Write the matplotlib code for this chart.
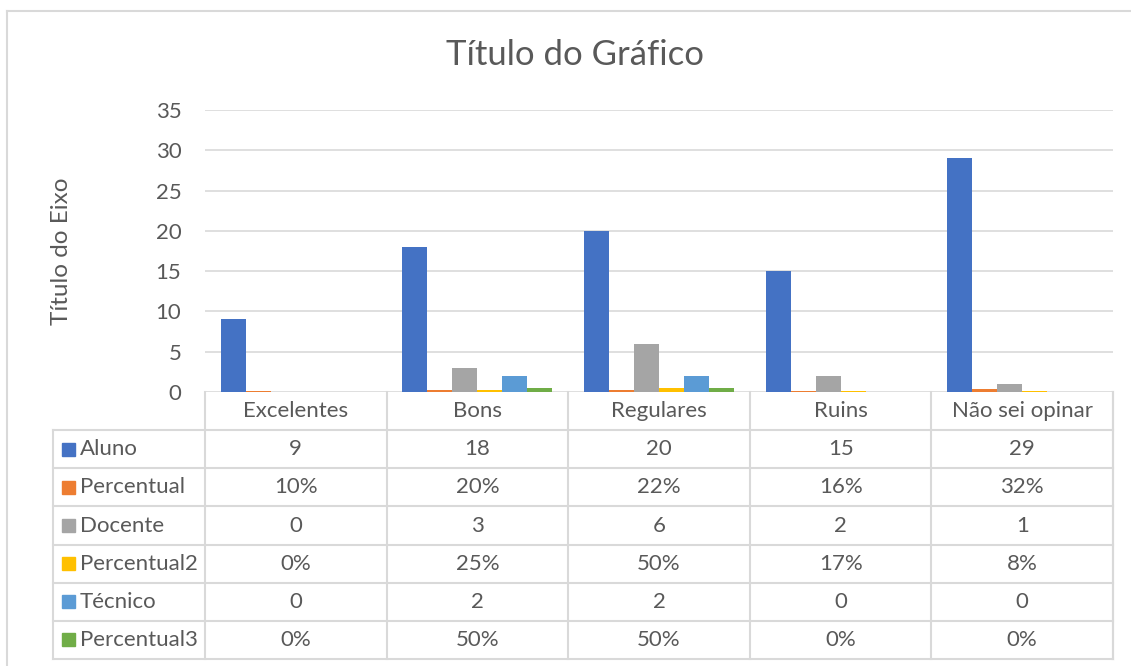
import matplotlib.pyplot as plt
from matplotlib.lines import Line2D
from matplotlib.patches import Rectangle
import numpy as np

plt.rcParams['font.family'] = ['Lato', 'DejaVu Sans']

categorias = ["Excelentes", "Bons", "Regulares", "Ruins", "Não sei opinar"]
series = ["Aluno", "Percentual", "Docente", "Percentual2", "Técnico", "Percentual3"]
aluno = [9, 18, 20, 15, 29]
percentual = [0.10, 0.20, 0.22, 0.16, 0.32]
docente = [0, 3, 6, 2, 1]
percentual2 = [0.0, 0.25, 0.50, 0.17, 0.08]
tecnico = [0, 2, 2, 0, 0]
percentual3 = [0.0, 0.50, 0.50, 0.0, 0.0]
valores = [aluno, percentual, docente, percentual2, tecnico, percentual3]
rotulos = [
    [str(v) for v in aluno],
    ["%d%%" % round(v * 100) for v in percentual],
    [str(v) for v in docente],
    ["%d%%" % round(v * 100) for v in percentual2],
    [str(v) for v in tecnico],
    ["%d%%" % round(v * 100) for v in percentual3],
]
cores = ["#4472C4", "#ED7D31", "#A5A5A5", "#FFC000", "#5B9BD5", "#70AD47"]

W, H = 1131, 666
fig = plt.figure(figsize=(W / 100, H / 100), dpi=100)
texto = "#595959"
grade = "#D9D9D9"
fs = 16

# moldura do gráfico
fig.add_artist(Line2D([7 / W, 1.0], [1 - 11 / H] * 2, color=grade, lw=1.5))
fig.add_artist(Line2D([7 / W] * 2, [0, 1 - 11 / H], color=grade, lw=1.5))

# área do gráfico (pixels)
x0, x1, y0, y1 = 205, 1113, 392, 110
ax = fig.add_axes([x0 / W, 1 - y0 / H, (x1 - x0) / W, (y0 - y1) / H])
n = len(categorias)
x = np.arange(n)
largura = 0.1377
for k, (nome, vals, cor) in enumerate(zip(series, valores, cores)):
    ax.bar(x + (k - 2.5) * largura, vals, largura, color=cor, label=nome, zorder=3)
ax.set_xlim(-0.5, n - 0.5)
ax.set_ylim(0, 35)
ax.set_yticks(range(0, 36, 5))
ax.set_xticks([])
ax.grid(axis="y", color=grade, lw=1.2, zorder=0)
for s in ax.spines.values():
    s.set_visible(False)
ax.tick_params(axis="y", length=0, pad=17, labelsize=fs, labelcolor=texto)
ax.set_ylabel("Título do Eixo", fontsize=17.5, color=texto)
ax.yaxis.set_label_coords(-0.146, 0.5)

fig.text(575 / W, 1 - 55 / H, "Título do Gráfico", fontsize=25, color=texto,
         ha="center", va="center")

# tabela de dados
t0, t1 = 53, 1113
tb = fig.add_axes([t0 / W, 1 - 659 / H, (t1 - t0) / W, (659 - 392) / H])
tb.set_xlim(t0, t1)
tb.set_ylim(7, 0)
tb.axis("off")
col = (x1 - x0) / n
lc = dict(color=grade, lw=1.5, clip_on=False)
# cabeçalho
for i in range(n + 1):
    tb.plot([x0 + i * col] * 2, [0, 7], **lc)
tb.plot([t0, t0], [1, 7], **lc)
tb.plot([t1, t1], [0, 7], **lc)
tb.plot([t0, t1], [1, 1], **lc)
tb.plot([t0, t1], [7, 7], **lc)
for r in range(2, 7):
    tb.plot([t0, t1], [r, r], **lc)
for i, c in enumerate(categorias):
    tb.text(x0 + (i + 0.5) * col, 0.5, c, ha="center", va="center", fontsize=fs, color=texto)
for r, (nome, cor, rot) in enumerate(zip(series, cores, rotulos)):
    yc = r + 1.5
    tb.add_patch(Rectangle((62, yc - 0.17), 13, 0.34, color=cor, clip_on=False))
    tb.text(80, yc, nome, ha="left", va="center", fontsize=fs, color=texto)
    for i, v in enumerate(rot):
        tb.text(x0 + (i + 0.5) * col, yc, v, ha="center", va="center", fontsize=fs, color=texto)

fig.savefig("out.png", dpi=100)
